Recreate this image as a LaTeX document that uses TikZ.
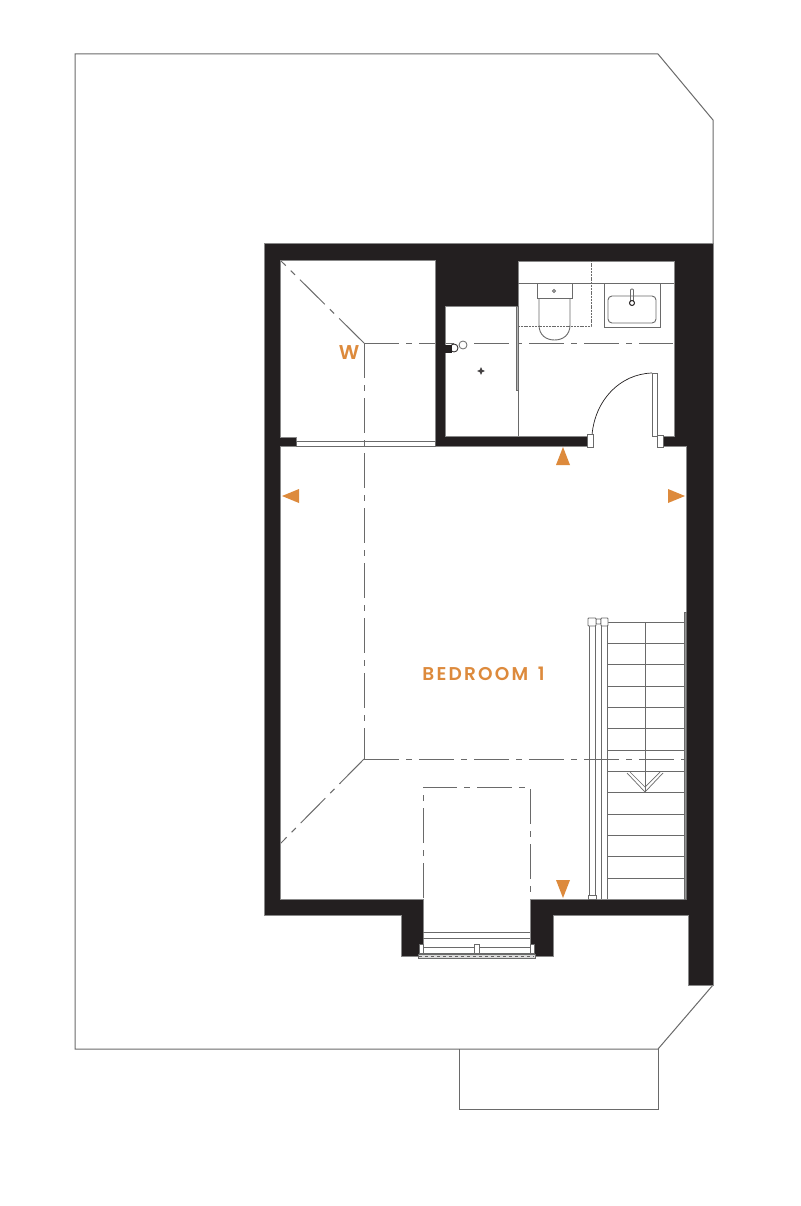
\documentclass[tikz,border=0pt]{standalone}
\usepackage{fontspec}
\newfontfamily\planfont[LetterSpace=12]{Poppins SemiBold}
\definecolor{wallc}{HTML}{231F20}
\definecolor{linec}{HTML}{6A6A6A}
\definecolor{orangec}{HTML}{DD8A3C}
\tikzset{
  site/.style={draw=linec,line width=1pt},
  slope/.style={draw=linec,line width=1pt,dash pattern=on 35pt off 7pt on 6pt off 7pt},
  wall/.style={fill=wallc,draw=linec!80,line width=0.5pt},
  fine/.style={draw=linec,line width=0.9pt},
  marker/.style={fill=orangec,draw=none},
  label text/.style={text=orangec,inner sep=0pt},
  jamb/.style={draw=linec,line width=0.9pt,fill=white}
}
\begin{document}
\begin{tikzpicture}[x=1pt,y=-1pt]
\useasboundingbox (0,0) rectangle (800,1206);
\fill[white] (0,0) rectangle (800,1206);
% site outline
\draw[site] (713,243) -- (713,120) -- (658,54) -- (75,54) -- (75,1049) -- (658,1049) -- (713,985);
\draw[site] (459,1049) -- (459,1109) -- (658,1109) -- (658,1049);
% sloped ceiling lines
\draw[slope] (364,343) -- (280,260);
\draw[slope] (364,343) -- (673,343);
\draw[slope] (364,343) -- (364,759);
\draw[slope] (364,759) -- (280,844);
\draw[slope] (364,759.5) -- (686,759.5);
\draw[slope] (423,898) -- (423,787) -- (530,787) -- (530,898);
% walls
\path[wall] (264,243) -- (713,243) -- (713,985) -- (688,985) -- (688,915) -- (553,915) -- (553,956) -- (530,956) -- (530,899) -- (686,899) -- (686,446) -- (663,446) -- (663,436) -- (674,436) -- (674,261) -- (518,261) -- (518,306) -- (445,306) -- (445,436) -- (587,436) -- (587,446) -- (435,446) -- (435,260) -- (280,260) -- (280,437) -- (296,437) -- (296,446) -- (280,446) -- (280,899) -- (423,899) -- (423,956) -- (401,956) -- (401,915) -- (264,915) -- cycle;
% wardrobe door
\draw[fine] (296,441) rectangle (435,446);
% bathroom
\draw[fine] (518,283) -- (674,283);
\fill[white] (539,298) rectangle (570,330);
\draw[fine] (539,298) -- (539,325) .. controls (539,335) and (546,340) .. (554.5,340) .. controls (563,340) and (570,335) .. (570,325) -- (570,298);
\fill[white] (537,284) rectangle (572,298);
\draw[fine] (537,284) -- (537,298) -- (572,298) -- (572,284);
\draw[fine] (554,291) circle (1.6);
\draw[fine,dash pattern=on 2pt off 0.8pt] (518,326) -- (591,326) -- (591,261);
\draw[fine] (604,283) rectangle (660,327);
\draw[fine,rounded corners=4pt] (608,296) rectangle (656,323);
\draw[fine,rounded corners=1pt] (630.5,289) rectangle (633.5,303);
\draw[wallc,line width=1pt,fill=white] (632,303) circle (2.5);
\draw[fine] (518,306) -- (518,436);
\draw[fine,fill=linec!50] (516,306) rectangle (518,390);
\fill[wallc!85] (481,367) -- (482.2,369.8) -- (485,371) -- (482.2,372.2) -- (481,375) -- (479.8,372.2) -- (477,371) -- (479.8,369.8) -- cycle;
\fill[wallc] (445,345) rectangle (452,353);
\draw[wallc,line width=0.8pt] (454,348) circle (4);
\draw[linec,line width=0.8pt,fill=white] (463,345) circle (4);
% bathroom door
\draw[wallc,line width=0.7pt] (592,435) .. controls (595,400) and (620,374) .. (652,373);
\draw[fine] (652,373) rectangle (657,436);
\draw[jamb] (587,434) rectangle (593,447);
\draw[jamb] (657,435) rectangle (663,447);
% stairs
\draw[fine,fill=linec!70] (684,612) rectangle (686,899);
\foreach \ty in {622,643,664,686,707,728,750,771,792,814,835,856,878}{
  \draw[fine] (607,\ty) -- (684,\ty);
}
\draw[fine] (645,622) -- (645,792);
\draw[fine,line width=0.7pt] (627,773) -- (645,792) -- (663,773);
\draw[fine,line width=0.7pt] (630,772) -- (645,787) -- (660,772);
\draw[fine] (589,622) -- (589,899);
\draw[fine] (595,622) -- (595,899);
\draw[fine] (601,622) -- (601,899);
\draw[fine] (607,622) -- (607,899);
\draw[jamb,rounded corners=0.8pt] (596,619) rectangle (601,624);
\draw[jamb,rounded corners=0.8pt] (588,618) rectangle (596,626);
\draw[jamb,rounded corners=0.8pt] (601,618) rectangle (608,626);
\draw[jamb] (588,895) rectangle (596,899);
% bay window
\draw[fine] (423,932) -- (530,932);
\draw[fine] (423,938) -- (530,938);
\draw[fine] (423,947) -- (530,947);
\draw[fine] (423,953) -- (530,953);
\draw[jamb] (419,944) rectangle (423.5,953);
\draw[jamb] (530,944) rectangle (534,953);
\draw[jamb] (474,944) rectangle (479,953);
\draw[fine,fill=linec!25] (418,954) rectangle (535,958.5);
\draw[draw=wallc!70,line width=0.6pt,dash pattern=on 3pt off 3pt] (419,956) -- (534,956);
% orientation markers
\fill[marker] (563,447) -- (570,465) -- (556,465) -- cycle;
\fill[marker] (282,496) -- (299,489) -- (299,503) -- cycle;
\fill[marker] (685,496) -- (668,489) -- (668,503) -- cycle;
\fill[marker] (563,898) -- (556,880) -- (570,880) -- cycle;
% labels
\node[label text,font=\planfont\fontsize{18.5}{18.5}\selectfont] (room) at (483.5,673.5) {BEDROOM\hspace{3pt} 1};
\node[label text,font=\planfont\fontsize{20}{20}\selectfont] (wardrobe) at (349,353) {W};
\end{tikzpicture}
\end{document}
